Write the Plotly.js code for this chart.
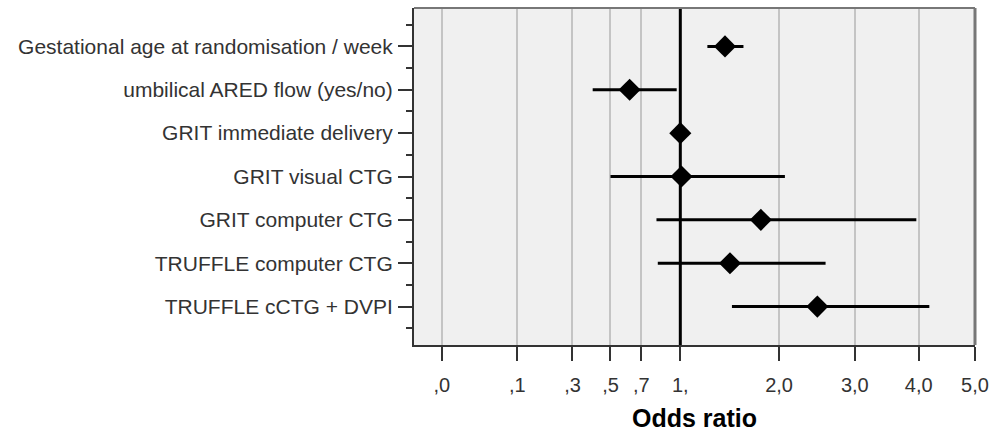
<!DOCTYPE html>
<html>
<head>
<meta charset="utf-8">
<script src="https://cdn.plot.ly/plotly-3.0.1.min.js"></script>
<style>html,body{margin:0;padding:0;background:#fff;}#chart{width:992px;height:435px;}</style>
</head>
<body>
<div id="chart"></div>
<script>
// Data (odds ratio with 95% CI)
const categories = [
  "Gestational age at randomisation / week",
  "umbilical ARED flow (yes/no)",
  "GRIT immediate delivery",
  "GRIT visual CTG",
  "GRIT computer CTG",
  "TRUFFLE computer CTG",
  "TRUFFLE cCTG + DVPI"
];
const oddsRatio = [1.41, 0.62, 1.00, 1.01, 1.79, 1.46, 2.48];
const ciLower   = [1.24, 0.40, 0.99, 0.50, 0.81, 0.82, 1.48];
const ciUpper   = [1.60, 0.97, 1.01, 2.07, 3.96, 2.59, 4.18];
const tickValues = [0, 0.1, 0.3, 0.5, 0.7, 1, 2, 3, 4, 5];
const tickLabels = [",0", ",1", ",3", ",5", ",7", "1,", "2,0", "3,0", "4,0", "5,0"];

// The axis uses a square-root scale of the odds ratio
const scale = v => Math.sqrt(v);
const rows = categories.map((_, i) => i);
const xs = oddsRatio.map(scale);
const errPlus = ciUpper.map((u, i) => scale(u) - xs[i]);
const errMinus = ciLower.map((l, i) => xs[i] - scale(l));

const font = "Liberation Sans, Arial, sans-serif";

const trace = {
  type: "scatter",
  mode: "markers",
  x: xs,
  y: rows,
  marker: {symbol: "diamond", size: 17, color: "#000"},
  error_x: {type: "data", symmetric: false, array: errPlus, arrayminus: errMinus,
            color: "#000", thickness: 3, width: 0},
  hoverinfo: "skip",
  cliponaxis: false
};

const layout = {
  width: 992, height: 435,
  margin: {l: 414, r: 17, t: 8, b: 90},
  paper_bgcolor: "#fff",
  plot_bgcolor: "#f0f0f0",
  showlegend: false,
  font: {family: font, size: 21, color: "#333"},
  xaxis: {
    range: [scale(0) - 0.117, scale(5)],
    tickmode: "array",
    tickvals: tickValues.map(scale),
    ticktext: tickLabels,
    ticks: "outside", ticklen: 14, tickwidth: 2, tickcolor: "#333",
    showgrid: true, gridcolor: "#c4c4c4", gridwidth: 2,
    zeroline: false,
    showline: true, linecolor: "#333", linewidth: 2,
    tickfont: {family: font, size: 20, color: "#333"},
    ticklabelstandoff: 7,
    title: {text: "<b>Odds ratio</b>", font: {family: font, size: 25, color: "#000"}, standoff: 14},
    fixedrange: true
  },
  yaxis: {
    range: [6.885, -0.885],
    tickmode: "array",
    tickvals: rows,
    ticktext: categories,
    ticks: "outside", ticklen: 14, tickwidth: 2, tickcolor: "#333",
    minor: {tickmode: "array", tickvals: rows.concat([rows.length]).map(v => v - 0.5),
            ticks: "outside", ticklen: 6, tickwidth: 2, tickcolor: "#333", showgrid: false},
    showgrid: false, zeroline: false,
    showline: true, linecolor: "#333", linewidth: 2,
    tickfont: {family: font, size: 21, color: "#333"},
    ticklabelstandoff: 1,
    fixedrange: true
  },
  shapes: [
    {type: "line", xref: "x", yref: "paper", x0: scale(1), x1: scale(1), y0: 0, y1: 1,
     line: {color: "#000", width: 3}, layer: "above"},
    {type: "line", xref: "paper", yref: "paper", x0: 0, x1: 1, y0: 1, y1: 1,
     line: {color: "#777", width: 2}},
    {type: "line", xref: "paper", yref: "paper", x0: 1, x1: 1, y0: 0, y1: 1,
     line: {color: "#777", width: 3}}
  ]
};

Plotly.newPlot("chart", [trace], layout, {displayModeBar: false, staticPlot: true});
</script>
</body>
</html>
